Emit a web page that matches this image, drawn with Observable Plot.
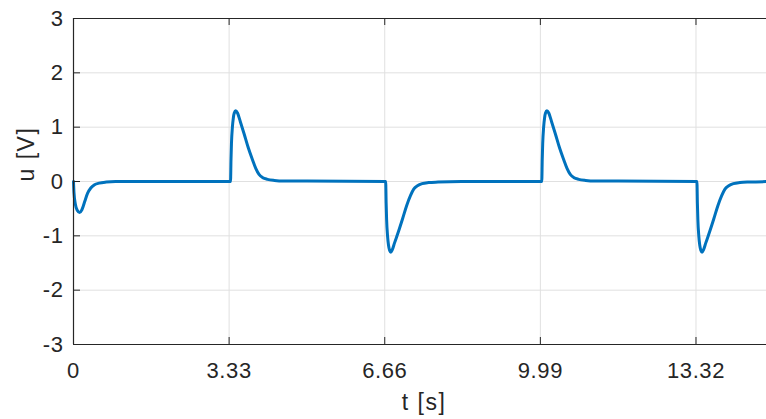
<!DOCTYPE html>
<html><head><meta charset="utf-8">
<script src="https://cdn.jsdelivr.net/npm/d3@7"></script>
<script src="https://cdn.jsdelivr.net/npm/@observablehq/plot@0.6"></script>
<style>
html,body{margin:0;padding:0;background:#fff;overflow:hidden;width:766px;height:419px;}
</style></head><body><div id="chart"></div>
<script>
// Waveform samples (time in s, voltage in V)
const startT  = [0, 0.01, 0.04, 0.08, 0.13, 0.18, 0.24, 0.30, 0.37, 0.45, 0.55, 0.70, 0.90, 2.00];
const startU  = [0, -0.20, -0.42, -0.53, -0.57, -0.52, -0.37, -0.22, -0.12, -0.06, -0.03, -0.01, 0, 0];

const pulse1T = [3.36, 3.37, 3.38, 3.40, 3.42, 3.44, 3.47, 3.51, 3.57, 3.65, 3.74, 3.83, 3.90, 3.97, 4.05, 4.15, 4.30, 4.50, 5.00];
const pulse1U = [0, 0.40, 0.70, 1.00, 1.17, 1.26, 1.30, 1.26, 1.10, 0.88, 0.62, 0.40, 0.24, 0.13, 0.07, 0.04, 0.02, 0.01, 0.01];

const pulse2T = [6.68, 6.69, 6.70, 6.72, 6.74, 6.765, 6.79, 6.82, 6.87, 6.95, 7.04, 7.13, 7.21, 7.28, 7.36, 7.46, 7.60, 7.80, 8.30];
const pulse2U = [0, -0.40, -0.70, -1.00, -1.17, -1.27, -1.30, -1.26, -1.13, -0.93, -0.69, -0.44, -0.26, -0.14, -0.08, -0.04, -0.02, -0.01, 0];

const pulse3T = [10.02, 10.03, 10.04, 10.06, 10.08, 10.10, 10.13, 10.17, 10.23, 10.31, 10.40, 10.49, 10.56, 10.63, 10.71, 10.81, 10.96, 11.16, 11.66];
const pulse3U = [0, 0.40, 0.70, 1.00, 1.17, 1.26, 1.30, 1.26, 1.10, 0.88, 0.62, 0.40, 0.24, 0.13, 0.07, 0.04, 0.02, 0.01, 0.01];

const pulse4T = [13.34, 13.35, 13.36, 13.38, 13.40, 13.425, 13.45, 13.48, 13.53, 13.61, 13.70, 13.79, 13.87, 13.94, 14.02, 14.12, 14.26, 14.46, 15.00];
const pulse4U = [0, -0.40, -0.70, -1.00, -1.17, -1.27, -1.30, -1.26, -1.13, -0.93, -0.69, -0.44, -0.26, -0.14, -0.08, -0.04, -0.02, -0.01, 0];

const xTicks = [0, 3.33, 6.66, 9.99, 13.32];
const xTickLabels = ["0", "3.33", "6.66", "9.99", "13.32"];
const yTicks = [-3, -2, -1, 0, 1, 2, 3];
const yTickLabels = ["-3", "-2", "-1", "0", "1", "2", "3"];
const xDomain = [0, 15];
const yDomain = [-3, 3];
const xLabel = "t [s]";
const yLabel = "u [V]";

const segments = [[startT, startU], [pulse1T, pulse1U], [pulse2T, pulse2U], [pulse3T, pulse3U], [pulse4T, pulse4U]];
const data = segments.flatMap(([T, U]) => T.map((t, i) => ({t, u: U[i]})));

const W = 774, H = 419, ML = 73, MR = 0, MT = 18, MB = 75;
const frameW = W - ML - MR, frameH = H - MT - MB, tickLen = 7;
const axisColor = "#262626", gridColor = "#e0e0e0";

const chart = Plot.plot({
  width: W, height: H,
  marginLeft: ML, marginRight: MR, marginTop: MT, marginBottom: MB,
  style: {maxWidth: "none", fontFamily: "'Liberation Sans', Arial, sans-serif", color: axisColor, background: "#fff", overflow: "hidden"},
  x: {domain: xDomain},
  y: {domain: yDomain},
  marks: [
    Plot.gridX(xTicks, {stroke: gridColor, strokeOpacity: 1}),
    Plot.gridY(yTicks, {stroke: gridColor, strokeOpacity: 1}),
    Plot.line(data, {x: "t", y: "u", stroke: "#0072BD", strokeWidth: 3, curve: "monotone-x"}),
    // box lines
    Plot.ruleY([yDomain[0]], {stroke: axisColor, strokeWidth: 1.2}),
    Plot.ruleY([yDomain[1]], {stroke: axisColor, strokeWidth: 1.2}),
    Plot.ruleX([xDomain[0]], {stroke: axisColor, strokeWidth: 1.2}),
    // inward tick marks
    Plot.tickX(xTicks, {x: d => d, insetTop: frameH - tickLen, stroke: axisColor}),
    Plot.tickX(xTicks, {x: d => d, insetBottom: frameH - tickLen, stroke: axisColor}),
    Plot.tickY(yTicks, {y: d => d, insetRight: frameW - tickLen, stroke: axisColor}),
    // tick labels
    Plot.axisX(xTicks, {tickSize: 0, tickPadding: 18, fontSize: 22, label: null,
      tickFormat: d => xTickLabels[xTicks.indexOf(d)]}),
    Plot.axisY(yTicks, {tickSize: 0, tickPadding: 10, fontSize: 22, label: null,
      tickFormat: d => yTickLabels[yTicks.indexOf(d)]}),
    // axis titles
    Plot.text([xLabel], {text: d => d, frameAnchor: "bottom", dy: 58, lineAnchor: "middle", fontSize: 23, fill: axisColor}),
    Plot.text([yLabel], {text: d => d, frameAnchor: "left", dx: -47, rotate: -90, lineAnchor: "middle", fontSize: 23, fill: axisColor})
  ]
});
d3.select(chart).selectAll("g[aria-label='x-axis tick label'] text, g[aria-label='y-axis tick label'] text").style("letter-spacing", "0.6px");
d3.select(chart).selectAll("g[aria-label='text'] text").style("letter-spacing", "1.5px");
document.getElementById("chart").appendChild(chart);
</script></body></html>
